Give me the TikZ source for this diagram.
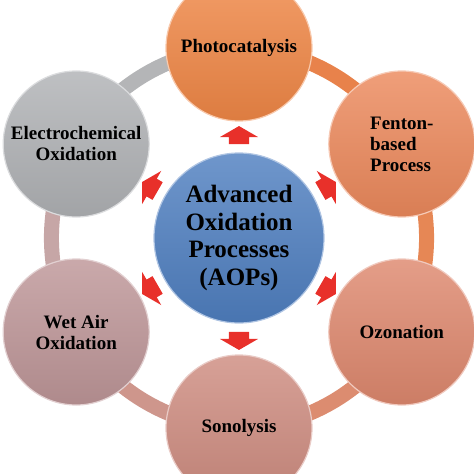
\documentclass[tikz,border=0pt]{standalone}
\usepackage{fontspec}
\setmainfont{Liberation Serif}
\usetikzlibrary{shapes.arrows,backgrounds}

\definecolor{photoorange}{RGB}{240,135,70}
\definecolor{fentonorange}{RGB}{236,137,92}
\definecolor{ozonesalmon}{RGB}{222,136,110}
\definecolor{sonopink}{RGB}{206,140,128}
\definecolor{wetmauve}{RGB}{190,150,152}
\definecolor{electrogray}{RGB}{176,178,181}
\definecolor{aopblue}{RGB}{79,127,192}
\definecolor{arrowred}{RGB}{232,48,42}
\definecolor{linkPF}{RGB}{232,130,75}
\definecolor{linkFZ}{RGB}{230,135,85}
\definecolor{linkZS}{RGB}{220,140,112}
\definecolor{linkSW}{RGB}{206,150,140}
\definecolor{linkWE}{RGB}{198,166,166}
\definecolor{linkEP}{RGB}{180,181,183}

\begin{document}
\begin{tikzpicture}[auto,
    process/.style ={circle, draw=white!55!#1, line width=1.2pt, top color=white!18!#1, bottom color=black!8!#1,
                     inner sep=0pt, minimum size=146pt, align=center, font=\bfseries\fontsize{19}{21}\selectfont},
    pointer/.style ={single arrow, fill=arrowred, draw=none, inner xsep=2pt, inner ysep=10pt, minimum height=18pt,
                     single arrow head extend=9pt, single arrow tip angle=120},
    link/.style ={line width=15pt, draw=#1}]
   \useasboundingbox (-239pt,-236pt) rectangle (235pt,238pt);

   \node[process=aopblue, minimum size=170pt, font=\bfseries\fontsize{25}{27.5}\selectfont] (C) at (0,0)
        {Advanced\\Oxidation\\Processes\\(AOPs)};
   \node[process=photoorange]  (P)  at (90:190pt)  {Photocatalysis};
   \node[process=fentonorange, align=left] (F)  at (30:188pt)  {Fenton-\\based\\Process};
   \node[process=ozonesalmon]  (Z)  at (-30:188pt)  {Ozonation};
   \node[process=sonopink]     (S)  at (-90:190pt)  {Sonolysis};
   \node[process=wetmauve]     (W)  at (210:188pt)  {Wet Air\\Oxidation};
   \node[process=electrogray]  (E)  at (150:188pt)  {Electrochemical\\Oxidation};

   \node[pointer, rotate=90]  (R1) at (90:100pt)  {};
   \node[pointer, rotate=30]  (R2) at (30:100pt)  {};
   \node[pointer, rotate=-30] (R3) at (-30:100pt)  {};
   \node[pointer, rotate=-90] (R4) at (-90:100pt)  {};
   \node[pointer, rotate=210] (R5) at (210:100pt)  {};
   \node[pointer, rotate=150] (R6) at (150:100pt)  {};

   \begin{scope}[on background layer]
   \draw[link=linkPF] (F.center) to[bend right=30, looseness=0.9] (P.center);
   \draw[link=linkEP] (P.center) to[bend right=30, looseness=0.9] (E.center);
   \draw[link=linkWE] (E.center) to[bend right=30, looseness=0.9] (W.center);
   \draw[link=linkSW] (W.center) to[bend right=30, looseness=0.9] (S.center);
   \draw[link=linkZS] (S.center) to[bend right=30, looseness=0.9] (Z.center);
   \draw[link=linkFZ] (Z.center) to[bend right=30, looseness=0.9] (F.center);
   \end{scope}
 \end{tikzpicture}
\end{document}
